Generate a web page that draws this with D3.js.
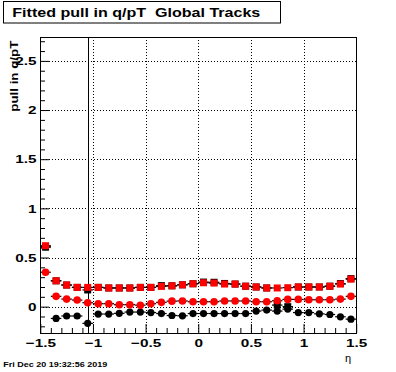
<!DOCTYPE html>
<html><head><meta charset="utf-8">
<script src="https://cdn.jsdelivr.net/npm/d3@7"></script>
<style>body{margin:0;background:#fff}svg{display:block}text{font-family:"Liberation Sans",Arial,Helvetica,sans-serif;fill:#000}</style>
</head><body><svg id="c" width="396" height="372"></svg>
<script>
// ---- data ----
const etaBins = [-1.45,-1.35,-1.25,-1.15,-1.05,-0.95,-0.85,-0.75,-0.65,-0.55,-0.45,-0.35,-0.25,-0.15,-0.05,
                 0.05,0.15,0.25,0.35,0.45,0.55,0.65,0.75,0.85,0.95,1.05,1.15,1.25,1.35,1.45];
const redSquares = [0.62,0.263,0.22,0.196,0.196,0.196,0.19,0.19,0.19,0.196,0.196,0.206,0.212,0.222,0.233,
                    0.243,0.24,0.23,0.23,0.208,0.20,0.19,0.19,0.193,0.20,0.20,0.20,0.208,0.23,0.28];
const blackSquares = [0.605,0.263,0.22,0.196,0.17,0.196,0.19,0.19,0.19,0.196,0.196,0.214,0.212,0.222,0.233,
                      0.25,0.248,0.236,0.23,0.208,0.20,0.19,0.016,0.0,0.20,0.20,0.20,0.208,0.235,0.285];
const redCircles = [0.35,0.105,0.077,0.067,0.04,0.03,0.03,0.02,0.02,0.015,0.03,0.044,0.056,0.058,0.05,
                    0.05,0.05,0.058,0.058,0.058,0.05,0.05,0.06,0.074,0.074,0.07,0.07,0.07,0.077,0.105];
const blackCircles = [0.61,-0.12,-0.095,-0.095,-0.17,-0.075,-0.075,-0.068,-0.055,-0.055,-0.06,-0.07,-0.09,-0.093,-0.07,
                      -0.07,-0.07,-0.07,-0.07,-0.07,-0.045,-0.035,-0.045,-0.025,-0.06,-0.06,-0.073,-0.08,-0.103,-0.127];
const binHalfWidth = 0.05;
const xTicks = [-1.5,-1,-0.5,0,0.5,1,1.5];
const xTickLabels = ["\u22121.5","\u22121","\u22120.5","0","0.5","1","1.5"];
const yTicks = [0,0.5,1,1.5,2,2.5];
const yTickLabels = ["0","0.5","1","1.5","2","2.5"];
const markerLineEta = -1.05;
const titleText = "Fitted pull in q/pT\u00a0\u00a0Global Tracks";
const yTitle = "pull in q/pT";
const xTitle = "\u03b7";
const stamp = "Fri Dec 20 19:32:56 2019";

// ---- drawing ----
const W=396,H=372;
const L=40,R=356,T=37,B=333;
const svg=d3.select("#c");
svg.append("rect").attr("width",W).attr("height",H).attr("fill","#fff");
const x=d3.scaleLinear().domain([-1.5,1.5]).range([L+0.3,R+0.2]);
const y=d3.scaleLinear().domain([-0.268,2.74]).range([B,T+0.3]);
const px=v=>Math.round(v)+0.5;

// grid
const grid=svg.append("g").attr("stroke","#000").attr("stroke-width",1).attr("stroke-dasharray","1,2");
xTicks.filter(d=>d>-1.5&&d<1.5).forEach(d=>grid.append("line").attr("x1",px(x(d))).attr("x2",px(x(d))).attr("y1",T).attr("y2",B));
yTicks.forEach(d=>grid.append("line").attr("x1",L).attr("x2",R).attr("y1",px(y(d))).attr("y2",px(y(d))));

// solid vertical line
svg.append("line").attr("x1",px(x(markerLineEta))).attr("x2",px(x(markerLineEta))).attr("y1",T).attr("y2",B).attr("stroke","#000");

// axes
const minorX=d3.range(-15,16).map(i=>i/10).filter(v=>Math.abs(v*2-Math.round(v*2))>1e-6);
const minorY=d3.range(-2,28).map(i=>i/10).filter(v=>Math.abs(v*2-Math.round(v*2))>1e-6);
const sx=1.33;
const gx=svg.append("g").attr("transform",`translate(0,${B})`)
  .call(d3.axisBottom(x).tickValues(xTicks).tickFormat((d,i)=>xTickLabels[i]).tickSize(-9).tickPadding(6.3));
svg.append("g").attr("transform",`translate(0,${B})`)
  .call(d3.axisBottom(x).tickValues(minorX).tickFormat("").tickSize(-5));
const gy=svg.append("g").attr("transform",`translate(${L},0)`)
  .call(d3.axisLeft(y).tickValues(yTicks).tickFormat((d,i)=>yTickLabels[i]).tickSize(-9).tickPadding(3.6));
svg.append("g").attr("transform",`translate(${L},0)`)
  .call(d3.axisLeft(y).tickValues(minorY).tickFormat("").tickSize(-5));
svg.selectAll(".domain").remove();
svg.selectAll(".tick line").attr("stroke","#000");
gx.selectAll("text").attr("font-size",11.5).attr("font-weight","bold").attr("fill","#000")
  .attr("font-family","'Liberation Sans',Arial,sans-serif").attr("transform",`scale(${sx},1)`).attr("y",6.3);
gy.selectAll("text").attr("font-size",11.5).attr("font-weight","bold").attr("fill","#000")
  .attr("font-family","'Liberation Sans',Arial,sans-serif").attr("transform",`scale(${sx},1)`).attr("x",-3.6/sx);

// frame
svg.append("rect").attr("x",L+0.5).attr("y",T+0.5).attr("width",R-L).attr("height",B-T)
  .attr("fill","none").attr("stroke","#000");

// error bars (horizontal, bin width)
const series=[
  {vals:blackCircles,color:"#000",shape:"circle",r:3.6},
  {vals:blackSquares,color:"#000",shape:"square",r:3.5},
  {vals:redCircles,color:"#ff0000",shape:"circle",r:3.8},
  {vals:redSquares,color:"#ff0000",shape:"square",r:3.5}
];
const eb=svg.append("g").attr("stroke","#000").attr("stroke-width",1.2);
series.forEach(s=>{
  etaBins.forEach((e,i)=>{
    eb.append("line").attr("x1",x(e-binHalfWidth)).attr("x2",x(e+binHalfWidth))
      .attr("y1",y(s.vals[i])).attr("y2",y(s.vals[i]));
  });
});
series.forEach(s=>{
  const g=svg.append("g").attr("fill",s.color);
  etaBins.forEach((e,i)=>{
    if(s.shape==="circle") g.append("circle").attr("cx",x(e)).attr("cy",y(s.vals[i])).attr("r",s.r);
    else g.append("rect").attr("x",x(e)-s.r).attr("y",y(s.vals[i])-s.r).attr("width",2*s.r).attr("height",2*s.r);
  });
});

// title box
svg.append("rect").attr("x",3.5).attr("y",1.5).attr("width",277).attr("height",21.5)
  .attr("fill","#fff").attr("stroke","#000");
svg.append("text").attr("x",12.3).attr("y",16.7).attr("font-size",13).attr("font-weight","bold")
  .attr("fill","#000").style("white-space","pre")
  .attr("textLength",248).attr("lengthAdjust","spacingAndGlyphs").text(titleText);

// y title
svg.append("text").attr("transform","translate(17.5,40.7) rotate(-90)").attr("text-anchor","end")
  .attr("fill","#000").attr("font-size",11).attr("font-weight","bold").attr("textLength",71).attr("lengthAdjust","spacingAndGlyphs").text(yTitle);

// x title
svg.append("text").attr("x",345).attr("y",361.5).attr("font-size",11).attr("fill","#000")
  .attr("font-family","'DejaVu Sans',sans-serif").text(xTitle);

// timestamp
svg.append("text").attr("x",3.3).attr("y",366.7).attr("font-size",8).attr("font-weight","bold").attr("fill","#000")
  .attr("textLength",104).attr("lengthAdjust","spacingAndGlyphs").text(stamp);
</script></body></html>
